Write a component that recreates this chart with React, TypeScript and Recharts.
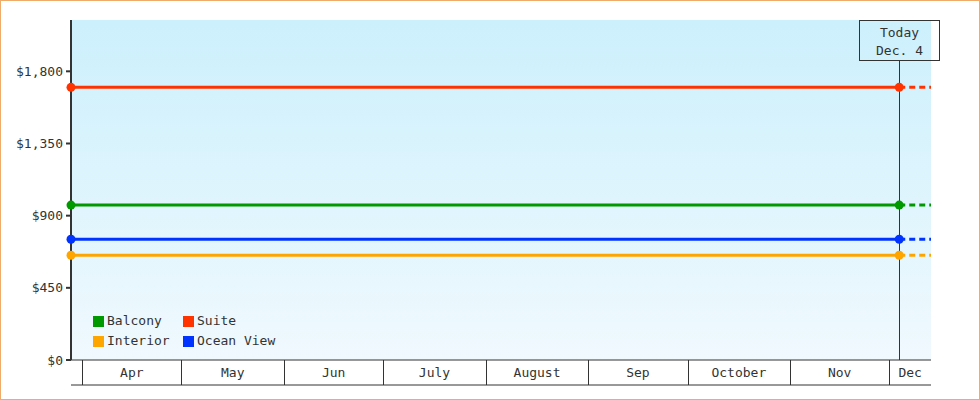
import { LineChart, Line, XAxis, YAxis, CartesianGrid, ReferenceLine, Legend } from "recharts";

// days counted from Apr 1
const MONTHS = ["Apr", "May", "Jun", "July", "August", "Sep", "October", "Nov", "Dec"];
const MONTH_START_DAYS = [0, 30, 61, 91, 122, 153, 183, 214, 244];
const RANGE_START = -3.4;
const RANGE_END = 256.6;
const TODAY = 247;
const TODAY_LINES = ["Today", "Dec. 4"];

const SERIES_NAMES = ["Balcony", "Suite", "Interior", "Ocean View"];
const SERIES_PRICES = [966, 1700, 653, 753];
const SERIES_COLORS = ["#009900", "#ff3300", "#ffa500", "#0033ff"];

const Y_TICKS = [0, 450, 900, 1350, 1800];
const Y_MAX = 2120;

const FONT = "'DejaVu Sans Mono', 'Liberation Mono', monospace";
const INK = "#333333";

const labelDays = MONTH_START_DAYS.map((d, i) => {
  const next = i + 1 < MONTH_START_DAYS.length ? MONTH_START_DAYS[i + 1] : RANGE_END;
  return (d + next) / 2;
});

const MonthTick = (props: any) => {
  const { x, y, payload } = props;
  const v = payload.value;
  const bi = MONTH_START_DAYS.indexOf(v);
  if (bi >= 0) {
    const px = Math.round(x) + 0.5;
    return <line x1={px} y1={y} x2={px} y2={y + 25} stroke={INK} strokeWidth={1} />;
  }
  const li = labelDays.indexOf(v);
  return (
    <text x={x} y={y + 17} textAnchor="middle" fill={INK} fontSize={13} fontFamily={FONT}>
      {MONTHS[li]}
    </text>
  );
};

const TodayMarker = (props: any) => {
  const { x1, y1, y2 } = props;
  const px = Math.round(x1) + 0.5;
  const top = Math.round(Math.min(y1, y2)) + 0.5;
  const bottom = Math.max(y1, y2);
  return (
    <g>
      <line x1={px} y1={top + 40} x2={px} y2={bottom} stroke={INK} strokeWidth={1} />
      <rect x={px - 40} y={top} width={80} height={40} fill="none" stroke={INK} strokeWidth={1} />
      {TODAY_LINES.map((t, i) => (
        <text key={t} x={px} y={top + 16 + i * 18.5} textAnchor="middle" fill={INK} fontSize={13} fontFamily={FONT}>
          {t}
        </text>
      ))}
    </g>
  );
};

const LegendBox = () => (
  <div
    style={{
      display: "grid",
      gridTemplateColumns: "90px 110px",
      fontFamily: FONT,
      fontSize: 13,
      color: INK,
      lineHeight: "20px",
    }}
  >
    {SERIES_NAMES.map((name, i) => (
      <div key={name} style={{ display: "flex", alignItems: "center", whiteSpace: "nowrap" }}>
        <span style={{ width: 11, height: 11, background: SERIES_COLORS[i], marginRight: 3, display: "inline-block" }} />
        {name}
      </div>
    ))}
  </div>
);

export default function App() {
  return (
    <div
      style={{
        position: "absolute",
        left: 0,
        top: 0,
        width: 980,
        height: 400,
        boxSizing: "border-box",
        border: "1px solid #efab6a",
        background: "#ffffff",
      }}
    >
      <LineChart width={978} height={398} margin={{ top: 19, right: 48, left: 0, bottom: 13 }}>
        <defs>
          <linearGradient id="plotBg" x1="0" y1="0" x2="0" y2="1">
            <stop offset="0%" stopColor="#ccf0fc" />
            <stop offset="100%" stopColor="#f0f9fe" />
          </linearGradient>
        </defs>
        <CartesianGrid horizontal={false} vertical={false} fill="url(#plotBg)" stroke="none" />
        <XAxis
          type="number"
          dataKey="day"
          domain={[RANGE_START, RANGE_END]}
          ticks={[...MONTH_START_DAYS, ...labelDays]}
          interval={0}
          tickSize={0}
          tickMargin={0}
          height={25}
          tickLine={false}
          axisLine={{ stroke: INK, strokeWidth: 1 }}
          tick={<MonthTick />}
        />
        <XAxis
          xAxisId="base"
          type="number"
          dataKey="day"
          domain={[RANGE_START, RANGE_END]}
          ticks={[]}
          tick={false}
          tickLine={false}
          height={1}
          axisLine={{ stroke: INK, strokeWidth: 1 }}
        />
        <YAxis
          type="number"
          domain={[0, Y_MAX]}
          ticks={Y_TICKS}
          width={70}
          tickSize={5}
          tickMargin={3}
          axisLine={{ stroke: INK, strokeWidth: 2 }}
          tickLine={{ stroke: INK, strokeWidth: 2 }}
          tick={{ fill: INK, fontSize: 13, fontFamily: FONT }}
          tickFormatter={(v: number) => "$" + v.toLocaleString("en-US")}
        />
        <Legend
          layout="horizontal"
          verticalAlign="middle"
          align="center"
          content={<LegendBox />}
          wrapperStyle={{ left: 92, top: 310, width: "auto", height: "auto" }}
        />
        <ReferenceLine x={TODAY} shape={<TodayMarker />} />
        {SERIES_NAMES.map((name, i) => (
          <Line
            key={name}
            name={name}
            data={[
              { day: RANGE_START, v: SERIES_PRICES[i] },
              { day: TODAY, v: SERIES_PRICES[i] },
            ]}
            dataKey="v"
            type="linear"
            stroke={SERIES_COLORS[i]}
            strokeWidth={3}
            dot={{ r: 4.5, fill: SERIES_COLORS[i], stroke: "none", clipDot: false }}
            activeDot={false}
            isAnimationActive={false}
          />
        ))}
        {SERIES_NAMES.map((name, i) => (
          <Line
            key={name + "-ahead"}
            name={name + " ahead"}
            legendType="none"
            data={[
              { day: TODAY, v: SERIES_PRICES[i] },
              { day: RANGE_END, v: SERIES_PRICES[i] },
            ]}
            dataKey="v"
            type="linear"
            stroke={SERIES_COLORS[i]}
            strokeWidth={3}
            strokeDasharray="6 4"
            dot={false}
            activeDot={false}
            isAnimationActive={false}
          />
        ))}
      </LineChart>
    </div>
  );
}
